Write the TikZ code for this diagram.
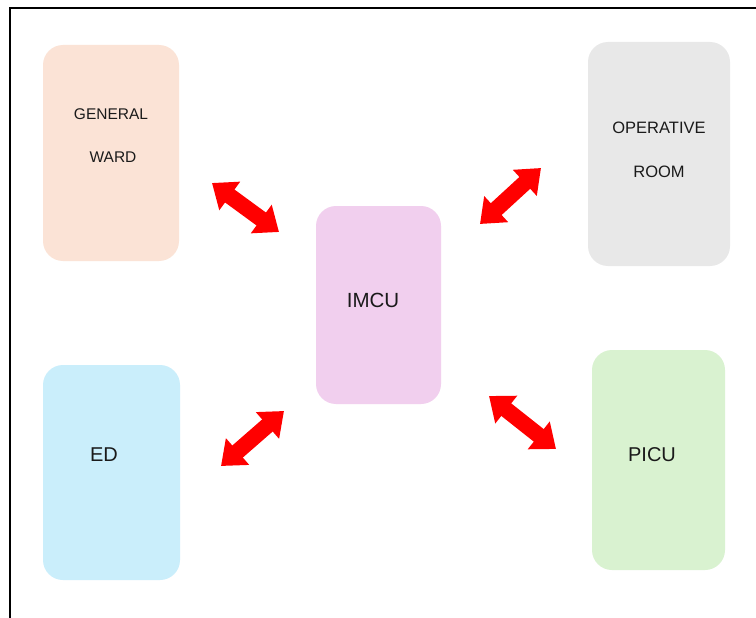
\documentclass[tikz,border=0pt]{standalone}
\usepackage{fontspec}
\setmainfont{Liberation Sans}
\usetikzlibrary{arrows.meta}
\definecolor{gwcol}{HTML}{FBE3D6}
\definecolor{orcol}{HTML}{E8E8E8}
\definecolor{imcol}{HTML}{F1CFEE}
\definecolor{edcol}{HTML}{CAEEFB}
\definecolor{picol}{HTML}{D9F2D0}
\definecolor{txt}{HTML}{1A1A1A}
\tikzset{
  unitbox/.style={rectangle, rounded corners=20pt, draw=none, inner sep=0pt},
  lbl/.style={inner sep=0pt, text=txt, font=\fontsize{15.5}{18}\selectfont},
  biglbl/.style={inner sep=0pt, text=txt, font=\fontsize{20}{23}\selectfont},
  flow/.style={draw=red, line width=16pt,
    {Triangle[width=34pt,length=22pt]}-{Triangle[width=34pt,length=22pt]}, fill=red}
}
\begin{document}
\begin{tikzpicture}[x=1pt,y=-1pt]
\useasboundingbox (0,0) rectangle (756,618);
\fill[white] (0,0) rectangle (756,618);
% frame (left and top edges only)
\draw[line width=2pt] (10,618) -- (10,8) -- (756,8);
% boxes
\node[unitbox, fill=gwcol, minimum width=136pt, minimum height=216pt] (gw) at (111,153) {};
\node[unitbox, fill=orcol, minimum width=142pt, minimum height=224pt] (or) at (659,154) {};
\node[unitbox, fill=imcol, minimum width=125pt, minimum height=198pt] (im) at (378.5,305) {};
\node[unitbox, fill=edcol, minimum width=137pt, minimum height=215pt] (ed) at (111.5,472.5) {};
\node[unitbox, fill=picol, minimum width=133pt, minimum height=220pt] (pi) at (658.5,460) {};
% labels
\node[lbl] (gw1) at (111,114) {GENERAL};
\node[lbl] (gw2) at (113,157) {WARD};
\node[lbl, font=\fontsize{16.5}{19}\selectfont] (or1) at (659,128) {OPERATIVE};
\node[lbl, font=\fontsize{16.5}{19}\selectfont] (or2) at (659,172) {ROOM};
\node[biglbl, font=\fontsize{20.5}{23}\selectfont] (im1) at (373,300) {IMCU};
\node[biglbl] (ed1) at (104,455) {ED};
\node[biglbl] (pi1) at (652,455) {PICU};
% arrow end points
\coordinate (a1s) at (212,183);
\coordinate (a1e) at (279,232);
\coordinate (a2s) at (541,168);
\coordinate (a2e) at (480,224);
\coordinate (a3s) at (221,466);
\coordinate (a3e) at (284,411);
\coordinate (a4s) at (489,396);
\coordinate (a4e) at (556,449);
\draw[flow] (a1s) -- (a1e);
\draw[flow] (a2s) -- (a2e);
\draw[flow] (a3s) -- (a3e);
\draw[flow] (a4s) -- (a4e);
\end{tikzpicture}
\end{document}
